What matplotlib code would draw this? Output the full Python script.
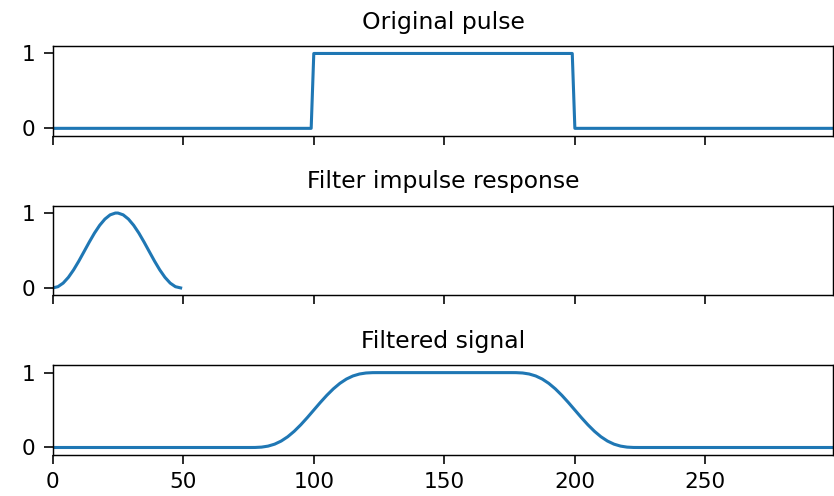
import matplotlib

matplotlib.use("Agg")
import matplotlib.pyplot as plt

# Original pulse: zero, a unit step up at 100, back down at 200
pulse_x = [0, 99, 100, 199, 200, 299]
pulse_y = [0, 0, 1, 1, 0, 0]

# Filter impulse response (50-sample bell)
win_x = [0, 2, 4, 6, 8, 10, 12, 14, 16, 18, 20, 22, 24,
         25, 27, 29, 31, 33, 35, 37, 39, 41, 43, 45, 47, 49]
win_y = [0, 0.0164, 0.0643, 0.1409, 0.2409, 0.3577, 0.4840, 0.6113,
         0.7316, 0.8359, 0.9186, 0.9748, 0.9990,
         0.9990, 0.9748, 0.9186, 0.8359, 0.7316, 0.6113, 0.4840,
         0.3577, 0.2409, 0.1409, 0.0643, 0.0164, 0]

# Filtered signal: smooth rise around 100, smooth fall around 200
filt_x = [0, 75.5, 77.5, 80, 82.5, 85, 87.5, 90, 92.5, 95, 97.5, 100,
          102.5, 105, 107.5, 110, 112.5, 115, 117.5, 120, 122.5, 124.5,
          175.5, 177.5, 180, 182.5, 185, 187.5, 190, 192.5, 195, 197.5, 200,
          202.5, 205, 207.5, 210, 212.5, 215, 217.5, 220, 222.5, 224.5, 299]
filt_y = [0, 0, 0.0004, 0.005, 0.0185, 0.0445, 0.0858, 0.1433, 0.2164,
          0.3028, 0.3987, 0.5, 0.6013, 0.6972, 0.7836, 0.8567, 0.9142,
          0.9555, 0.9815, 0.995, 0.9996, 1.0,
          1.0, 0.9996, 0.995, 0.9815, 0.9555, 0.9142, 0.8567, 0.7836,
          0.6972, 0.6013, 0.5, 0.3987, 0.3028, 0.2164, 0.1433, 0.0858,
          0.0445, 0.0185, 0.005, 0.0004, 0, 0]

titles = ["Original pulse", "Filter impulse response", "Filtered signal"]
series = [(pulse_x, pulse_y), (win_x, win_y), (filt_x, filt_y)]

fig, axes = plt.subplots(3, 1, sharex=True, figsize=(834 / 130, 496 / 130), dpi=130)
fig.subplots_adjust(left=0.0632, right=0.9992, top=0.9073, bottom=0.0827, hspace=0.776)

for ax, (xs, ys), title in zip(axes, series, titles):
    ax.plot(xs, ys, color="C0", linewidth=1.7)
    ax.set_title(title, fontsize=13, pad=9.5)
    ax.margins(0, 0.1)
    ax.set_yticks([0, 1])
    ax.tick_params(labelsize=12, length=5, width=0.9, pad=4.5)

axes[-1].set_xticks([0, 50, 100, 150, 200, 250])

fig.savefig("out.png", dpi=130)
plt.close(fig)
